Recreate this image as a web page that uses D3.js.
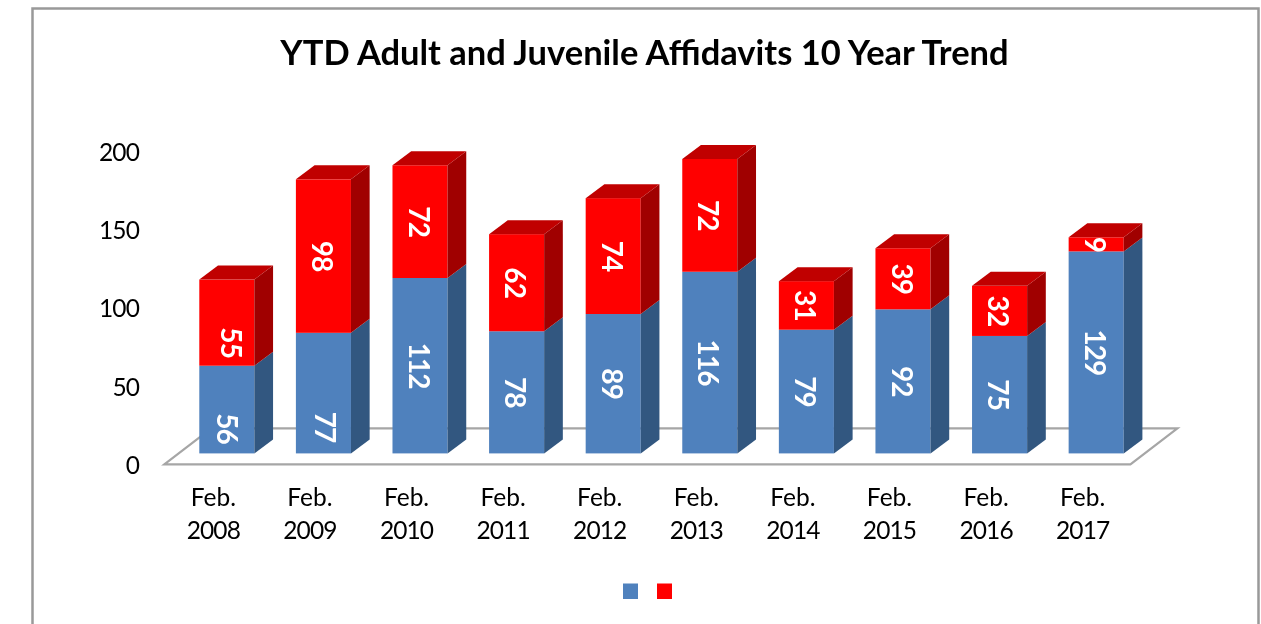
<!DOCTYPE html>
<html>
<head>
<meta charset="utf-8">
<script src="https://cdn.jsdelivr.net/npm/d3@7"></script>
<style>
  html, body { margin: 0; padding: 0; background: #fff; overflow: hidden; }
  svg { display: block; filter: blur(0.35px); }
  text { font-family: Lato, "Open Sans", sans-serif; }
  .axis path, .axis line { display: none; }
  .axis text { fill: #000; font-size: 24.5px; font-family: Lato, "Open Sans", sans-serif; }
  .num { letter-spacing: -0.9px; }
</style>
</head>
<body>
<svg id="chart" width="1261" height="624"></svg>
<script>
var categories = ["Feb. 2008", "Feb. 2009", "Feb. 2010", "Feb. 2011", "Feb. 2012",
                  "Feb. 2013", "Feb. 2014", "Feb. 2015", "Feb. 2016", "Feb. 2017"];
var adult = [56, 77, 112, 78, 89, 116, 79, 92, 75, 129];
var juvenile = [55, 98, 72, 62, 74, 72, 31, 39, 32, 9];
var yTicks = [0, 50, 100, 150, 200];
var title = "YTD Adult and Juvenile Affidavits 10 Year Trend";

// 3d look of the bars and floor
var depthX = 18.7, depthY = 14;
var colors = [
  {front: "#4f81bd", side: "#325780", top: "#3f6797"},
  {front: "#ff0000", side: "#a00000", top: "#c00000"}
];

var svg = d3.select("#chart");

var x = d3.scaleBand().domain(categories).range([199.3, 1123.7]).paddingInner(0.43).paddingOuter(0);
var y = d3.scaleLinear().domain([0, 200]).range([453.4, 140.2]);

// outer frame, bottom edge is cropped by the page
svg.append("path")
    .attr("d", "M32.5,624V8.5H1258.5V624")
    .attr("fill", "none")
    .attr("stroke", "#999")
    .attr("stroke-width", 2.5);

svg.append("text")
    .attr("x", 644.5)
    .attr("y", 53)
    .attr("dy", ".35em")
    .attr("text-anchor", "middle")
    .style("font-size", "34.5px")
    .style("font-weight", 700)
    .text(title);

// floor
var floorY = y(0) + 11;
var floorLeft = x(categories[0]) - 35;
var floorRight = x(categories[categories.length - 1]) + x.bandwidth() + 6.7;
var floorDx = 47, floorDy = 36;
svg.append("polygon")
    .attr("points", [
      [floorLeft, floorY], [floorRight, floorY],
      [floorRight + floorDx, floorY - floorDy], [floorLeft + floorDx, floorY - floorDy]
    ].join(" "))
    .attr("fill", "#fff")
    .attr("stroke", "#a6a6a6")
    .attr("stroke-width", 2.2);

// axes
var yAxis = svg.append("g")
    .attr("class", "axis")
    .attr("transform", "translate(139,12.2)")
    .call(d3.axisLeft(y).tickValues(yTicks).tickSize(0).tickPadding(0));

yAxis.selectAll("text").attr("class", "num");

var xAxis = svg.append("g")
    .attr("class", "axis")
    .attr("transform", "translate(-13.5," + (y(0) + 11) + ")")
    .call(d3.axisBottom(x).tickSize(0).tickPadding(0));

xAxis.selectAll("text").each(function(d) {
  var parts = d.split(" ");
  var t = d3.select(this).text(null).attr("y", 0).attr("dy", null);
  t.append("tspan").attr("x", 0).attr("y", 41.5).text(parts[0]);
  t.append("tspan").attr("class", "num").attr("x", 0).attr("y", 74.5).text(parts[1]);
});

// stacked bars
var stack = categories.map(function(c, i) {
  return [
    {cat: c, y0: 0, y1: adult[i], value: adult[i], s: 0},
    {cat: c, y0: adult[i], y1: adult[i] + juvenile[i], value: juvenile[i], s: 1}
  ];
});

var bars = svg.selectAll(".bar")
    .data(stack)
    .enter().append("g")
    .attr("class", "bar");

var w = x.bandwidth();

var segs = bars.selectAll(".seg")
    .data(function(d) { return d; })
    .enter().append("g")
    .attr("class", "seg");

segs.append("rect")
    .attr("x", function(d) { return x(d.cat); })
    .attr("y", function(d) { return y(d.y1); })
    .attr("width", w)
    .attr("height", function(d) { return y(d.y0) - y(d.y1); })
    .attr("fill", function(d) { return colors[d.s].front; });

segs.append("polygon")
    .attr("points", function(d) {
      var r = x(d.cat) + w;
      return [[r, y(d.y1)], [r + depthX, y(d.y1) - depthY], [r + depthX, y(d.y0) - depthY], [r, y(d.y0)]].join(" ");
    })
    .attr("fill", function(d) { return colors[d.s].side; });

// only the top segment shows its lid
segs.filter(function(d) { return d.s === 1; }).append("polygon")
    .attr("points", function(d) {
      var l = x(d.cat), t = y(d.y1);
      return [[l, t], [l + w, t], [l + w + depthX, t - depthY], [l + depthX, t - depthY]].join(" ");
    })
    .attr("fill", function(d) { return colors[d.s].top; });

// the first labels were dragged by hand in the original chart
function labelNudge(d) {
  if (d.cat === "Feb. 2008") return d.s === 0 ? [1, 19] : [5, 20];
  if (d.cat === "Feb. 2009" && d.s === 0) return [3, 34];
  return [0, 0];
}

segs.append("text")
    .attr("class", "num")
    .attr("transform", function(d) {
      var n = labelNudge(d);
      var cx = x(d.cat) + w / 2 - 1.5 + n[0];
      var cy = (y(d.y0) + y(d.y1)) / 2 + n[1];
      return "translate(" + cx + "," + cy + ") rotate(90)";
    })
    .attr("dy", ".35em")
    .attr("text-anchor", "middle")
    .attr("fill", "#fff")
    .style("font-size", "28px")
    .style("font-weight", 700)
    .text(function(d) { return d.value; });

// legend has no names, just the two swatches
var legendX = d3.scalePoint().domain([0, 1]).range([623, 657]);
svg.selectAll(".swatch")
    .data([0, 1])
    .enter().append("rect")
    .attr("class", "swatch")
    .attr("x", function(d) { return legendX(d); })
    .attr("y", 583.5)
    .attr("width", 15)
    .attr("height", 15.5)
    .attr("fill", function(d) { return colors[d].front; });
</script>
</body>
</html>
